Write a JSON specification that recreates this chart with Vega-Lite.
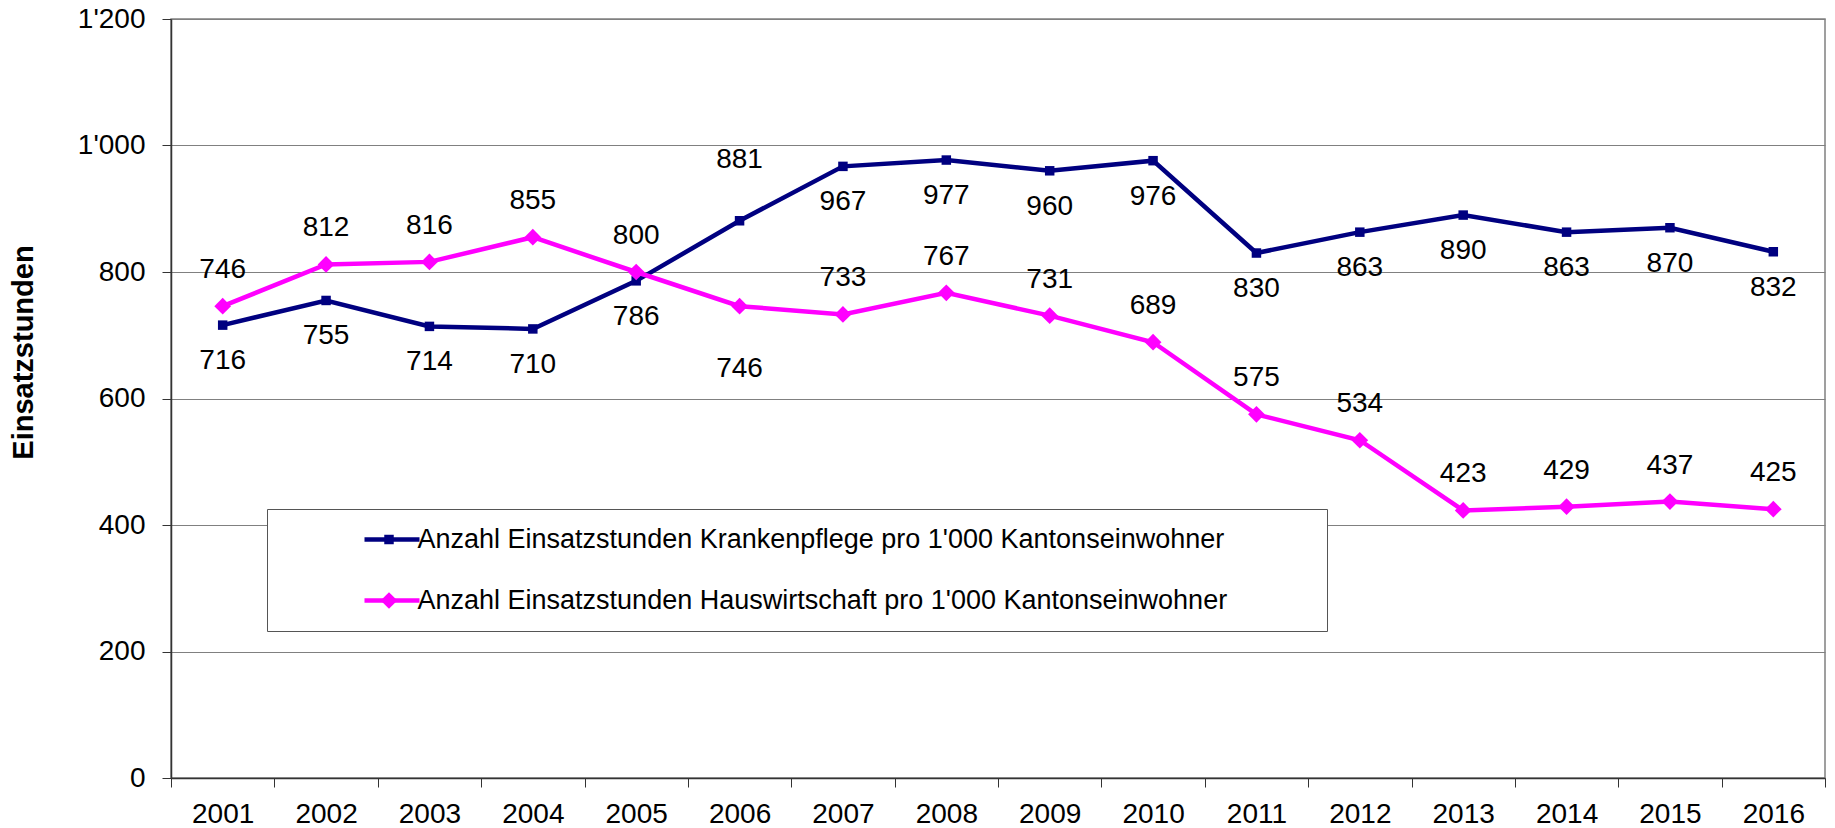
{
  "$schema": "https://vega.github.io/schema/vega-lite/v6.json",
  "autosize": "none",
  "padding": {"left": 171, "top": 19, "right": 10, "bottom": 50},
  "width": 1654,
  "height": 759,
  "background": "white",
  "config": {
    "font": "Liberation Sans",
    "view": {"stroke": "#808080", "strokeWidth": 1.5},
    "axis": {"labelFont": "Liberation Sans", "titleFont": "Liberation Sans", "labelColor": "#000", "titleColor": "#000"}
  },
  "data": {"values": [
    {"year": "2001", "series": "Anzahl Einsatzstunden Krankenpflege pro 1'000 Kantonseinwohner", "value": 716},
    {"year": "2002", "series": "Anzahl Einsatzstunden Krankenpflege pro 1'000 Kantonseinwohner", "value": 755},
    {"year": "2003", "series": "Anzahl Einsatzstunden Krankenpflege pro 1'000 Kantonseinwohner", "value": 714},
    {"year": "2004", "series": "Anzahl Einsatzstunden Krankenpflege pro 1'000 Kantonseinwohner", "value": 710},
    {"year": "2005", "series": "Anzahl Einsatzstunden Krankenpflege pro 1'000 Kantonseinwohner", "value": 786},
    {"year": "2006", "series": "Anzahl Einsatzstunden Krankenpflege pro 1'000 Kantonseinwohner", "value": 881},
    {"year": "2007", "series": "Anzahl Einsatzstunden Krankenpflege pro 1'000 Kantonseinwohner", "value": 967},
    {"year": "2008", "series": "Anzahl Einsatzstunden Krankenpflege pro 1'000 Kantonseinwohner", "value": 977},
    {"year": "2009", "series": "Anzahl Einsatzstunden Krankenpflege pro 1'000 Kantonseinwohner", "value": 960},
    {"year": "2010", "series": "Anzahl Einsatzstunden Krankenpflege pro 1'000 Kantonseinwohner", "value": 976},
    {"year": "2011", "series": "Anzahl Einsatzstunden Krankenpflege pro 1'000 Kantonseinwohner", "value": 830},
    {"year": "2012", "series": "Anzahl Einsatzstunden Krankenpflege pro 1'000 Kantonseinwohner", "value": 863},
    {"year": "2013", "series": "Anzahl Einsatzstunden Krankenpflege pro 1'000 Kantonseinwohner", "value": 890},
    {"year": "2014", "series": "Anzahl Einsatzstunden Krankenpflege pro 1'000 Kantonseinwohner", "value": 863},
    {"year": "2015", "series": "Anzahl Einsatzstunden Krankenpflege pro 1'000 Kantonseinwohner", "value": 870},
    {"year": "2016", "series": "Anzahl Einsatzstunden Krankenpflege pro 1'000 Kantonseinwohner", "value": 832},
    {"year": "2001", "series": "Anzahl Einsatzstunden Hauswirtschaft pro 1'000 Kantonseinwohner", "value": 746},
    {"year": "2002", "series": "Anzahl Einsatzstunden Hauswirtschaft pro 1'000 Kantonseinwohner", "value": 812},
    {"year": "2003", "series": "Anzahl Einsatzstunden Hauswirtschaft pro 1'000 Kantonseinwohner", "value": 816},
    {"year": "2004", "series": "Anzahl Einsatzstunden Hauswirtschaft pro 1'000 Kantonseinwohner", "value": 855},
    {"year": "2005", "series": "Anzahl Einsatzstunden Hauswirtschaft pro 1'000 Kantonseinwohner", "value": 800},
    {"year": "2006", "series": "Anzahl Einsatzstunden Hauswirtschaft pro 1'000 Kantonseinwohner", "value": 746},
    {"year": "2007", "series": "Anzahl Einsatzstunden Hauswirtschaft pro 1'000 Kantonseinwohner", "value": 733},
    {"year": "2008", "series": "Anzahl Einsatzstunden Hauswirtschaft pro 1'000 Kantonseinwohner", "value": 767},
    {"year": "2009", "series": "Anzahl Einsatzstunden Hauswirtschaft pro 1'000 Kantonseinwohner", "value": 731},
    {"year": "2010", "series": "Anzahl Einsatzstunden Hauswirtschaft pro 1'000 Kantonseinwohner", "value": 689},
    {"year": "2011", "series": "Anzahl Einsatzstunden Hauswirtschaft pro 1'000 Kantonseinwohner", "value": 575},
    {"year": "2012", "series": "Anzahl Einsatzstunden Hauswirtschaft pro 1'000 Kantonseinwohner", "value": 534},
    {"year": "2013", "series": "Anzahl Einsatzstunden Hauswirtschaft pro 1'000 Kantonseinwohner", "value": 423},
    {"year": "2014", "series": "Anzahl Einsatzstunden Hauswirtschaft pro 1'000 Kantonseinwohner", "value": 429},
    {"year": "2015", "series": "Anzahl Einsatzstunden Hauswirtschaft pro 1'000 Kantonseinwohner", "value": 437},
    {"year": "2016", "series": "Anzahl Einsatzstunden Hauswirtschaft pro 1'000 Kantonseinwohner", "value": 425}
  ]},
  "encoding": {
    "x": {
      "field": "year", "type": "ordinal", "bandPosition": 0.5,
      "scale": {"type": "band", "paddingInner": 0, "paddingOuter": 0},
      "axis": {"title": null, "labelAngle": 0, "tickBand": "extent", "labelFontSize": 28, "tickSize": 9, "labelPadding": 13, "domainColor": "#333", "tickColor": "#333", "domainWidth": 1.5, "grid": false}
    },
    "y": {
      "field": "value", "type": "quantitative",
      "scale": {"domain": [0, 1200], "nice": false, "zero": true},
      "axis": {"title": "Einsatzstunden", "values": [0, 200, 400, 600, 800, 1000, 1200], "labelExpr": "replace(format(datum.value, ','), ',', \"'\")", "labelFontSize": 28, "tickSize": 9, "labelPadding": 17, "domainColor": "#333", "tickColor": "#333", "domainWidth": 1.5, "grid": true, "gridColor": "#808080", "gridWidth": 1.2, "titleFontSize": 29, "titleFontWeight": "bold", "titleX": -139, "titleY": 333, "titleAlign": "center", "titleBaseline": "alphabetic", "titleAngle": -90}
    }
  },
  "layer": [
    {
      "mark": {"type": "line", "strokeWidth": 4.5},
      "encoding": {
        "color": {
          "field": "series", "type": "nominal",
          "sort": ["Anzahl Einsatzstunden Krankenpflege pro 1'000 Kantonseinwohner", "Anzahl Einsatzstunden Hauswirtschaft pro 1'000 Kantonseinwohner"],
          "scale": {"range": ["#000080", "#FF00FF"]},
          "legend": {"orient": "none", "legendX": 96, "legendY": 490, "title": null, "symbolType": "M-5,0H5", "symbolSize": 121, "symbolStrokeWidth": 4.5, "symbolFillColor": "transparent", "labelFontSize": 27, "labelFont": "Liberation Sans", "labelOpacity": 0, "labelLimit": 1400, "padding": 17, "strokeColor": "#555", "fillColor": "white", "rowPadding": 33, "symbolOffset": 94.5, "labelOffset": 896, "labelExpr": "'.'"}
        }
      }
    },
    {
      "mark": {"type": "point", "filled": true, "opacity": 1, "strokeWidth": 0},
      "encoding": {
        "fill": {
          "field": "series", "type": "nominal",
          "scale": {"domain": ["Anzahl Einsatzstunden Krankenpflege pro 1'000 Kantonseinwohner", "Anzahl Einsatzstunden Hauswirtschaft pro 1'000 Kantonseinwohner"], "range": ["#000080", "#FF00FF"]},
          "legend": {"orient": "none", "legendX": 96, "legendY": 490, "title": null, "labelFontSize": 27, "labelFont": "Liberation Sans", "labelColor": "#000", "labelLimit": 1400, "padding": 17, "strokeColor": null, "fillColor": null, "rowPadding": 33, "symbolOffset": 91.5, "labelOffset": 15, "symbolStrokeWidth": 0}
        },
        "shape": {
          "field": "series", "type": "nominal",
          "scale": {"domain": ["Anzahl Einsatzstunden Krankenpflege pro 1'000 Kantonseinwohner", "Anzahl Einsatzstunden Hauswirtschaft pro 1'000 Kantonseinwohner"], "range": ["square", "diamond"]}
        },
        "size": {
          "field": "series", "type": "nominal",
          "scale": {"domain": ["Anzahl Einsatzstunden Krankenpflege pro 1'000 Kantonseinwohner", "Anzahl Einsatzstunden Hauswirtschaft pro 1'000 Kantonseinwohner"], "range": [90, 280]}
        }
      }
    },
    {
      "transform": [{"filter": "indexof(datum.series, 'Haus') >= 0 && datum.year != '2006'"}],
      "mark": {"type": "text", "fontSize": 28, "font": "Liberation Sans", "color": "#000", "baseline": "middle", "dy": -36},
      "encoding": {"text": {"field": "value", "type": "quantitative"}}
    },
    {
      "transform": [{"filter": "indexof(datum.series, 'Kranken') >= 0 && datum.year != '2006'"}],
      "mark": {"type": "text", "fontSize": 28, "font": "Liberation Sans", "color": "#000", "baseline": "middle", "dy": 36},
      "encoding": {"text": {"field": "value", "type": "quantitative"}}
    },
    {
      "transform": [{"filter": "indexof(datum.series, 'Kranken') >= 0 && datum.year == '2006'"}],
      "mark": {"type": "text", "fontSize": 28, "font": "Liberation Sans", "color": "#000", "baseline": "middle", "dy": -61},
      "encoding": {"text": {"field": "value", "type": "quantitative"}}
    },
    {
      "transform": [{"filter": "indexof(datum.series, 'Haus') >= 0 && datum.year == '2006'"}],
      "mark": {"type": "text", "fontSize": 28, "font": "Liberation Sans", "color": "#000", "baseline": "middle", "dy": 63},
      "encoding": {"text": {"field": "value", "type": "quantitative"}}
    }
  ]
}
